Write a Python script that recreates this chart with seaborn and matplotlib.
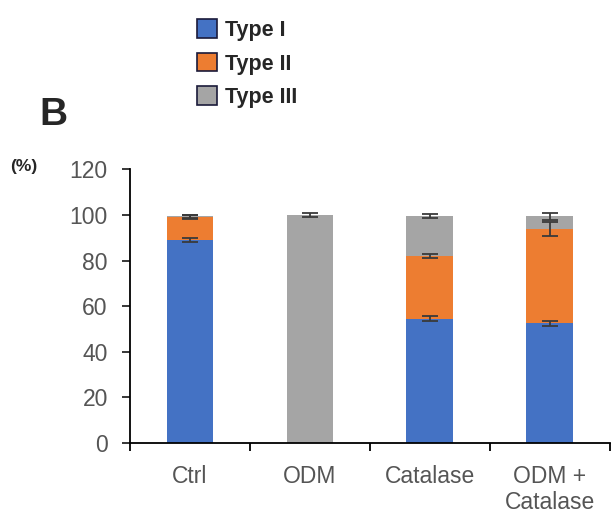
import numpy as np
import pandas as pd
import matplotlib
matplotlib.use('Agg')
import matplotlib.pyplot as plt
import seaborn as sns
from matplotlib.patches import Patch

# data (percent of cells)
groups = ["Ctrl", "ODM", "Catalase", "ODM +\nCatalase"]
type_names = ["Type I", "Type II", "Type III"]
type1 = [89.0, 0.0, 54.5, 52.5]
type2 = [10.0, 0.0, 27.5, 41.5]
type3 = [0.5, 100.0, 17.5, 5.5]
err1 = [1.0, 0.0, 1.0, 1.2]
err2 = [0.8, 0.0, 0.8, 3.0]
err3 = [0.6, 1.0, 1.0, 1.5]
colors = ["#4472C4", "#ED7D31", "#A5A5A5"]

sns.set_style("white")
plt.rcParams['font.family'] = ['Liberation Sans', 'DejaVu Sans']

df = pd.DataFrame({"group": groups, "t1": type1, "t2": type2, "t3": type3})
df["c1"] = df["t1"]
df["c2"] = df["t1"] + df["t2"]
df["c3"] = df["c2"] + df["t3"]

fig = plt.figure(figsize=(6.11, 5.15), dpi=100)
ax = fig.add_axes([0.2128, 0.1398, 0.785, 0.5312])

# cumulative layers drawn from the top down
for col, c in zip(["c3", "c2", "c1"], colors[::-1]):
    sns.barplot(data=df, x="group", y=col, color=c, width=0.39,
                errorbar=None, saturation=1, linewidth=0, ax=ax)

x = np.arange(len(groups))
for cum, seg, err in [(df["c1"], type1, err1), (df["c2"], type2, err2), (df["c3"], type3, err3)]:
    mask = np.array(seg) > 0
    ax.errorbar(x[mask], np.array(cum)[mask], yerr=np.array(err)[mask], fmt="none",
                ecolor="#3a3a3a", elinewidth=1.3, capsize=5.5, capthick=1.3)

ax.set_ylim(0, 120)
ax.set_xlim(-0.5, 3.5)
ax.set_yticks(range(0, 121, 20))
ax.set_xticks(np.arange(-0.5, 3.6, 1.0), minor=False)
ax.set_xticks(x, minor=True)
ax.set_xticklabels([])
ax.set_xticklabels(groups, minor=True, linespacing=1.15)
ax.tick_params(axis="x", which="major", length=6, width=1.3, direction="out", bottom=True, color="black")
ax.tick_params(axis="x", which="minor", length=0, pad=16, labelsize=16.5, labelcolor="#555555")
ax.tick_params(axis="y", length=6, width=1.3, direction="out", left=True, labelsize=16.5,
               labelcolor="#555555", pad=10)
ax.set_xlabel("")
ax.set_ylabel("")
for s in ["top", "right"]:
    ax.spines[s].set_visible(False)
for s in ["left", "bottom"]:
    ax.spines[s].set_color("black")
    ax.spines[s].set_linewidth(1.3)

handles = [Patch(facecolor=c, edgecolor="#1a1a3a", linewidth=1.2) for c in colors]
fig.legend(handles, type_names, loc="upper left", bbox_to_anchor=(0.29, 1.0),
           frameon=False, prop={"weight": "bold", "size": 15.5}, handlelength=0.95,
           handleheight=0.95, handletextpad=0.35, labelspacing=0.55)

fig.text(0.065, 0.758, "B", fontsize=28, fontweight="bold", ha="left", va="baseline")
fig.text(0.016, 0.668, "(%)", fontsize=12.5, fontweight="bold", ha="left", va="baseline")

fig.savefig("out.png", dpi=100)
